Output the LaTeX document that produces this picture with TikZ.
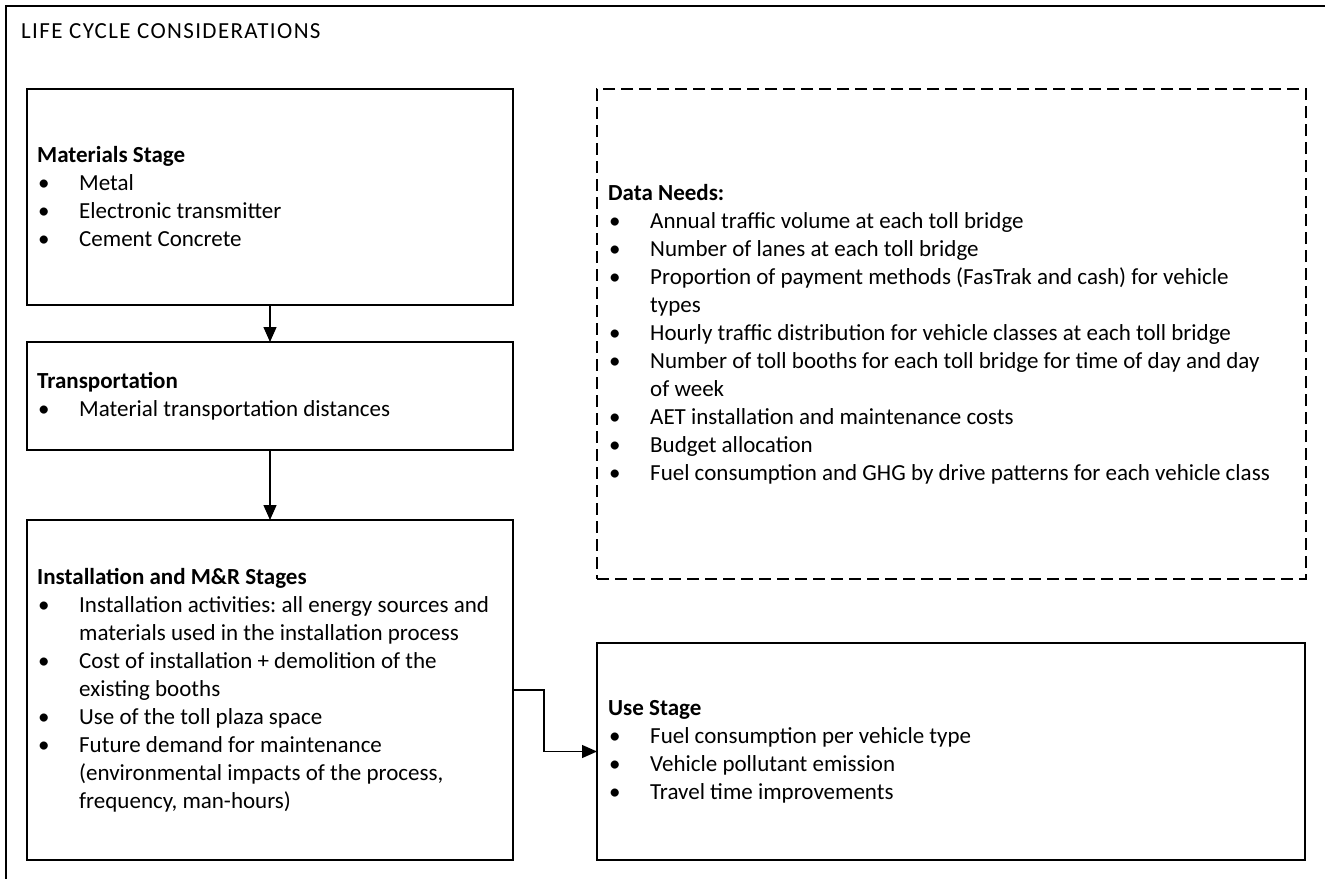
\documentclass[tikz,border=0pt]{standalone}
\usepackage{fontspec}
\setmainfont{Carlito}
\newfontfamily\titlefont[LetterSpace=6]{Carlito}
\usetikzlibrary{arrows.meta}
\frenchspacing
\newcommand{\bl}{\makebox[42pt][l]{\hspace{1pt}\textbullet}}
\newcommand{\cont}{\hspace*{42pt}}
\tikzset{
  stagebox/.style={draw=black, line width=1.3pt, rectangle, inner sep=0pt, outer sep=0pt},
  needbox/.style={draw=black, line width=1.3pt, dash pattern=on 12pt off 6pt, rectangle, inner sep=0pt, outer sep=0pt},
  boxtext/.style={anchor=west, inner sep=0pt, align=left, font=\fontsize{23}{28}\selectfont},
  link/.style={draw=black, line width=1.3pt, -{Triangle[length=15pt,width=13pt]}},
}
\begin{document}
\begin{tikzpicture}[x=1pt,y=-1pt]
\useasboundingbox (0,0) rectangle (1325,878);
\fill[white] (0,0) rectangle (1325,878);
% outer frame
\draw[line width=1.5pt] (6,890) -- (6,6) -- (1340,6);
\node[anchor=base west, inner sep=0pt, font=\titlefont\fontsize{23}{28}\selectfont] (title) at (21,38) {LIFE CYCLE CONSIDERATIONS};

% boxes
\node[stagebox, minimum width=486pt, minimum height=216pt] (mat) at (270,197) {};
\node[stagebox, minimum width=486pt, minimum height=108pt] (trans) at (270,396) {};
\node[stagebox, minimum width=486pt, minimum height=340pt] (inst) at (270,690) {};
\node[needbox, minimum width=709pt, minimum height=490pt] (data) at (951.5,334) {};
\node[stagebox, minimum width=708pt, minimum height=217pt] (use) at (951,751.5) {};

% texts
\node[boxtext] (matt) at ([xshift=10pt]mat.west) {%
\textbf{Materials Stage}\\
\bl Metal\\
\bl Electronic transmitter\\
\bl Cement Concrete};

\node[boxtext] (transt) at ([xshift=10pt]trans.west) {%
\textbf{Transportation}\\
\bl Material transportation distances};

\node[boxtext] (instt) at ([xshift=10pt]inst.west) {%
\textbf{Installation and M\&R Stages}\\
\bl Installation activities: all energy sources and\\
\cont materials used in the installation process\\
\bl Cost of installation + demolition of the\\
\cont existing booths\\
\bl Use of the toll plaza space\\
\bl Future demand for maintenance\\
\cont (environmental impacts of the process,\\
\cont frequency, man-hours)};

\node[boxtext] (datat) at ([xshift=11pt]data.west) {%
\textbf{Data Needs:}\\
\bl Annual traffic volume at each toll bridge\\
\bl Number of lanes at each toll bridge\\
\bl Proportion of payment methods (FasTrak and cash) for vehicle\\
\cont types\\
\bl Hourly traffic distribution for vehicle classes at each toll bridge\\
\bl Number of toll booths for each toll bridge for time of day and day\\
\cont of week\\
\bl AET installation and maintenance costs\\
\bl Budget allocation\\
\bl Fuel consumption and GHG by drive patterns for each vehicle class};

\node[boxtext] (uset) at ([xshift=11pt]use.west) {%
\textbf{Use Stage}\\
\bl Fuel consumption per vehicle type\\
\bl Vehicle pollutant emission\\
\bl Travel time improvements};

% connectors
\draw[link] (mat.south) -- (trans.north);
\draw[link] (trans.south) -- (inst.north);
\draw[link] (inst.east) -- ++(31,0) |- (use.west);
\end{tikzpicture}
\end{document}
